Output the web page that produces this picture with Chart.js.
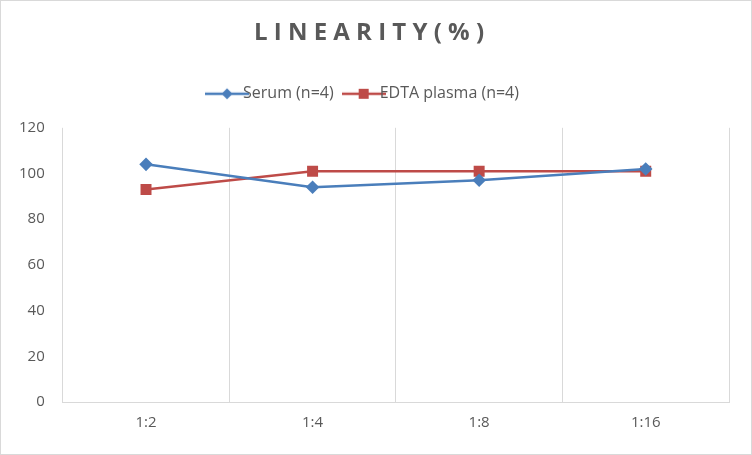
<!DOCTYPE html>
<html><head><meta charset="utf-8">
<script src="https://cdn.jsdelivr.net/npm/chart.js@4/dist/chart.umd.min.js"></script>
<style>html,body{margin:0;padding:0;background:#fff}#w{position:absolute;left:0;top:0;width:750px;height:453px;border:1px solid #d9d9d9}</style>
</head><body><div id="w"><canvas id="c" width="750" height="453"></canvas></div>
<script>
const categories=["1:2","1:4","1:8","1:16"];
const serum=[104,94,97,102];
const edta=[93,101,101,101];
const yTicks={min:0,max:120,step:20};
function icon(color,shape){const c=document.createElement('canvas');c.width=44;c.height=14;const x=c.getContext('2d');
x.strokeStyle=color;x.lineWidth=2.5;x.beginPath();x.moveTo(0,7);x.lineTo(44,7);x.stroke();x.fillStyle=color;
if(shape==='d'){x.beginPath();x.moveTo(22,1.5);x.lineTo(27.5,7);x.lineTo(22,12.5);x.lineTo(16.5,7);x.closePath();x.fill();}
else{x.fillRect(17,2,10,10);}return c;}
const icons=[icon('#4a7ebb','d'),icon('#be4b48','s')];
new Chart(document.getElementById('c'),{type:'line',
data:{labels:categories,datasets:[
{label:'Serum (n=4)',data:serum,borderColor:'#4a7ebb',backgroundColor:'#4a7ebb',borderWidth:2.5,pointStyle:'rectRot',pointRadius:5,pointHoverRadius:5,tension:0},
{label:'EDTA plasma (n=4)',data:edta,borderColor:'#be4b48',backgroundColor:'#be4b48',borderWidth:2.5,pointStyle:'rect',pointRadius:6,pointHoverRadius:6,tension:0}]},
options:{responsive:false,animation:false,layout:{padding:{left:8,right:22,top:6,bottom:10}},
plugins:{title:{display:true,text:'L I N E A R I T Y ( % )',color:'#595959',font:{family:'Open Sans',size:24,weight:'bold'},padding:{top:12,bottom:16}},
legend:{labels:{usePointStyle:true,color:'#595959',font:{family:'Open Sans',size:16},padding:22,
generateLabels(ch){return ch.data.datasets.map((d,i)=>({text:d.label,pointStyle:icons[i],fontColor:'#595959',datasetIndex:i}));}}}},
scales:{x:{offset:true,grid:{offset:true,color:'#d9d9d9',drawTicks:false},border:{color:'#d9d9d9'},ticks:{color:'#595959',font:{family:'Open Sans',size:15},padding:12}},
y:{min:yTicks.min,max:yTicks.max,ticks:{stepSize:yTicks.step,color:'#595959',font:{family:'Open Sans',size:15},padding:10},grid:{display:false},border:{display:false}}}},
plugins:[{id:'legendGap',beforeInit(ch){const f=ch.legend.fit;ch.legend.fit=function(){f.bind(ch.legend)();this.height+=16;};}}]});
</script></body></html>
